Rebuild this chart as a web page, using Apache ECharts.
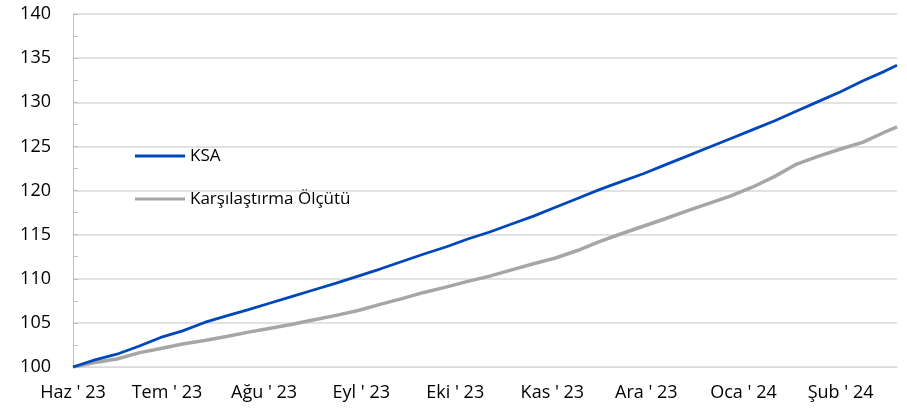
<!DOCTYPE html>
<html>
<head>
<meta charset="utf-8">
<script src="https://cdn.jsdelivr.net/npm/echarts@6/dist/echarts.min.js"></script>
<style>
html,body{margin:0;padding:0;background:#fff;}
#c{width:907px;height:415px;}
</style>
</head>
<body>
<div id="c"></div>
<script>
var dates = ['2023-06-01','2023-06-08','2023-06-15','2023-06-22','2023-06-29','2023-07-06','2023-07-13','2023-07-20','2023-07-27','2023-08-03','2023-08-10','2023-08-17','2023-08-24','2023-08-31','2023-09-07','2023-09-14','2023-09-21','2023-09-28','2023-10-05','2023-10-12','2023-10-19','2023-10-26','2023-11-02','2023-11-09','2023-11-16','2023-11-23','2023-11-30','2023-12-07','2023-12-14','2023-12-21','2023-12-28','2024-01-04','2024-01-11','2024-01-18','2024-01-25','2024-02-01','2024-02-08','2024-02-15','2024-02-19'];
var ksa = [100.0,100.8,101.45,102.35,103.35,104.1,105.05,105.8,106.5,107.25,108.0,108.75,109.5,110.3,111.1,111.95,112.8,113.6,114.5,115.3,116.2,117.1,118.1,119.1,120.1,121.0,121.9,122.9,123.9,124.9,125.9,126.9,127.9,129.0,130.1,131.2,132.4,133.5,134.2];
var benchmark = [100.0,100.5,100.9,101.6,102.1,102.6,103.0,103.45,103.95,104.4,104.85,105.35,105.85,106.4,107.1,107.75,108.45,109.05,109.7,110.3,111.0,111.7,112.35,113.2,114.2,115.1,115.95,116.8,117.7,118.55,119.4,120.4,121.6,123.0,123.9,124.7,125.45,126.6,127.2];
var seriesNames = ['KSA','Karşılaştırma Ölçütü'];
var tickDates = ['2023-06-01','2023-07-01','2023-08-01','2023-09-01','2023-10-01','2023-11-01','2023-12-01','2024-01-01','2024-02-01'];
var tickLabels = ["Haz ' 23","Tem ' 23","Ağu ' 23","Eyl ' 23","Eki ' 23","Kas ' 23","Ara ' 23","Oca ' 24","Şub ' 24"];
var yTicks = [100,105,110,115,120,125,130,135,140];

function utc(s){var p=s.split('-');return Date.UTC(+p[0],+p[1]-1,+p[2]);}
var t0 = utc(dates[0]);
function day(s){return Math.round((utc(s)-t0)/86400000);}
var tickDays = tickDates.map(day);
var font = '"Open Sans", sans-serif';

var chart = echarts.init(document.getElementById('c'), null, {renderer:'canvas'});
chart.setOption({
  animation:false,
  backgroundColor:'#fff',
  grid:{left:73,right:10,top:14,bottom:48,containLabel:false},
  legend:{
    orient:'vertical', left:135, top:147, padding:0,
    itemWidth:50, itemHeight:3, itemGap:25, icon:'rect',
    textStyle:{fontFamily:font,fontSize:17,color:'#000',lineHeight:18},
    data:seriesNames
  },
  xAxis:{
    type:'value',
    min:0, max:day(dates[dates.length-1]),
    axisLine:{show:true,lineStyle:{color:'#d9d9d9',width:1}},
    axisTick:{show:false},
    splitLine:{show:false},
    axisLabel:{
      customValues:tickDays,
      margin:17,
      fontFamily:font,fontSize:18,color:'#000',
      hideOverlap:false,
      formatter:function(v){var i=tickDays.indexOf(v);return i>=0?tickLabels[i]:'';}
    }
  },
  yAxis:{
    type:'value', min:yTicks[0],max:yTicks[yTicks.length-1],interval:5,
    axisLine:{show:true,lineStyle:{color:'#bfbfbf',width:1}},
    axisTick:{show:true,inside:true,length:5,lineStyle:{color:'#bfbfbf'}},
    minorTick:{show:true,splitNumber:2,length:5,lineStyle:{color:'#bfbfbf'}},
    splitLine:{show:true,lineStyle:{color:'#d9d9d9',width:1.5}},
    axisLabel:{margin:22,fontFamily:font,fontSize:18,color:'#000'}
  },
  series:[
    {name:seriesNames[0],type:'line',showSymbol:false,symbol:'none',
     data:dates.map(function(d,i){return [day(d),ksa[i]];}),
     lineStyle:{color:'#0047BB',width:2.8},itemStyle:{color:'#0047BB'},z:3},
    {name:seriesNames[1],type:'line',showSymbol:false,symbol:'none',
     data:dates.map(function(d,i){return [day(d),benchmark[i]];}),
     lineStyle:{color:'#a6a6a6',width:3.5},itemStyle:{color:'#a6a6a6'},z:2}
  ]
});
</script>
</body>
</html>
